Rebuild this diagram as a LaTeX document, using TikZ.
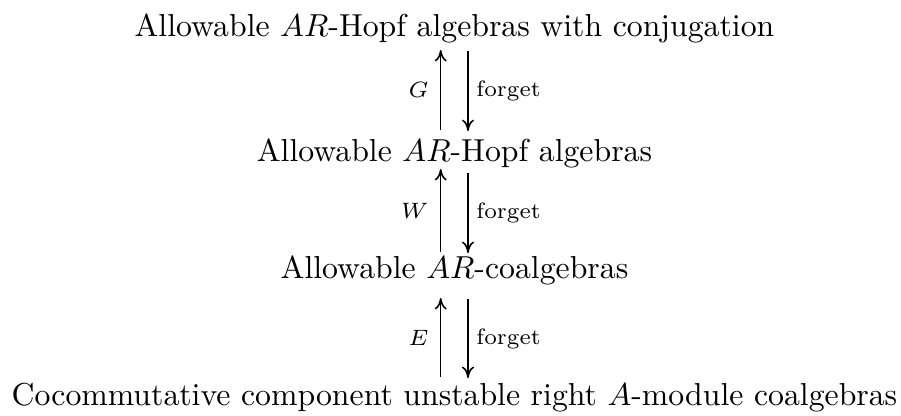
\documentclass[tikz,border=0pt]{standalone}
\usetikzlibrary{arrows.meta,calc}
\begin{document}
\begin{tikzpicture}[x=0.3148pt,y=-0.3148pt,
  obj/.style={inner sep=0pt, anchor=base},
  lbl/.style={inner sep=0pt, font=\scriptsize},
  arr/.style={-{Computer Modern Rightarrow[length=3.6pt,width=3.8pt]}, line width=0.5pt}]
\useasboundingbox (0,0) rectangle (901,415);
\node[obj] (r1) at (454.5,36) {Allowable $AR$-Hopf algebras with conjugation};
\node[obj] (r2) at (454.5,161) {Allowable $AR$-Hopf algebras};
\node[obj] (r3) at (454.5,278) {Allowable $AR$-coalgebras};
\node[obj] (r4) at (454.5,405) {Cocommutative component unstable right $A$-module coalgebras};
% arrows between rows 1 and 2
\draw[arr] ($(r2.base)+(-13.8,-31)$) -- ($(r1.base)+(-13.8,14)$) node[lbl, midway, left=3.6pt] (lg) {$G$};
\draw[arr] ($(r1.base)+(13.5,15)$) -- ($(r2.base)+(13.5,-30)$) node[lbl, midway, right=2.4pt] (lf1) {forget};
% arrows between rows 2 and 3
\draw[arr] ($(r3.base)+(-13.8,-26)$) -- ($(r2.base)+(-13.8,8)$) node[lbl, midway, left=3.6pt] (lw) {$W$};
\draw[arr] ($(r2.base)+(13.5,12)$) -- ($(r3.base)+(13.5,-25)$) node[lbl, midway, right=2.4pt] (lf2) {forget};
% arrows between rows 3 and 4
\draw[arr] ($(r4.base)+(-13.8,-28)$) -- ($(r3.base)+(-13.8,20)$) node[lbl, midway, left=3.6pt] (le) {$E$};
\draw[arr] ($(r3.base)+(13.5,21)$) -- ($(r4.base)+(13.5,-27)$) node[lbl, midway, right=2.4pt] (lf3) {forget};
\end{tikzpicture}
\end{document}
